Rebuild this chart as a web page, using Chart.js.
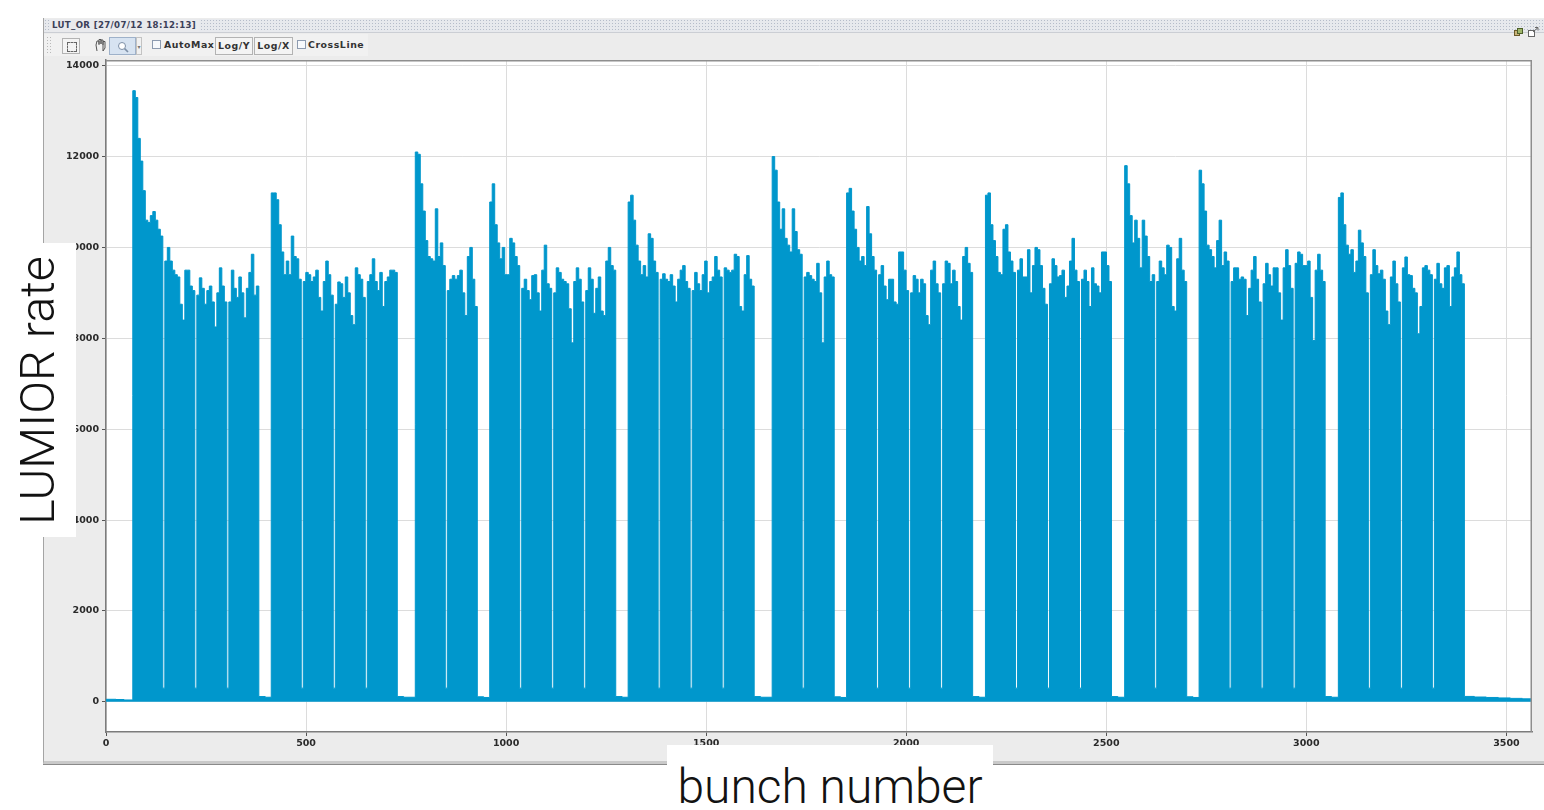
<!DOCTYPE html>
<html><head><meta charset="utf-8">
<script src="https://cdn.jsdelivr.net/npm/chart.js@4.4.1/dist/chart.umd.min.js"></script>
<style>
html,body{margin:0;padding:0;background:#fff;width:1544px;height:810px;overflow:hidden;position:relative;font-family:'DejaVu Sans',sans-serif;}
.abs{position:absolute;}
#panel{left:43px;top:18px;width:1501px;height:743px;background:#ececec;border-left:1px solid #a4a4a4;border-bottom:3px solid #c9c9c9;box-shadow:0 1px 0 #8a8a8a;}
#titlebar{left:44px;top:19px;width:1500px;height:13px;background-color:#e7e9ed;background-image:radial-gradient(circle,#b5bcc9 0.7px,transparent 0.95px);background-size:3px 3px;border-bottom:1px solid #cbced4;}
#title{left:50px;top:19px;height:13px;line-height:13px;padding:0 3px 0 2px;background:#e9eaed;font-weight:bold;font-size:8.6px;color:#3b4058;letter-spacing:0.35px;white-space:nowrap;}
#toolbar{left:44px;top:34px;width:324px;height:22px;background:#f1f1f1;}
#grip{left:46px;top:36px;width:6px;height:18px;background-image:radial-gradient(circle,#b9b9b9 0.7px,transparent 0.9px);background-size:3px 3px;}
.btn{border:1px solid #b3b3b3;background:#f4f4f4;box-sizing:border-box;font-weight:bold;font-size:9.4px;color:#333;text-align:center;line-height:15px;letter-spacing:0.5px;}
.chk{width:9px;height:9px;border:1px solid #8d9bb0;background:#f7f9fc;box-sizing:border-box;}
.tbtxt{font-weight:bold;font-size:9.4px;color:#333;letter-spacing:0.55px;line-height:12px;white-space:nowrap;}
#c{left:0;top:0;z-index:1;}
.lab{background:#fff;z-index:3;}
.big{font-family:Roboto,'Open Sans',sans-serif;font-weight:300;color:#121212;white-space:nowrap;text-align:center;}
</style></head>
<body>
<div id="panel" class="abs"></div>
<div id="titlebar" class="abs"></div>
<div id="title" class="abs">LUT_OR [27/07/12 18:12:13]</div>
<div id="toolbar" class="abs"></div>
<div id="grip" class="abs"></div>
<div class="abs btn" style="left:62px;top:38px;width:18px;height:16px;"><div style="position:absolute;left:4px;top:3px;width:8px;height:8px;border:1px dashed #666;"></div></div>
<svg class="abs" style="left:94px;top:38px" width="13" height="15"><path d="M3 13 L2 7 L3 3 L5 3 L5 7 M5 6 L5 1.5 L7 1.5 L7 6 M7 6 L7 2 L9 2 L9 7 M9 7 L9 3.5 L11 3.5 L11 10 L9 13 Z" fill="none" stroke="#555" stroke-width="1"/></svg>
<div class="abs btn" style="left:109px;top:37px;width:27px;height:18px;background:#d7e3f1;border-color:#9eb1c9;"><svg style="position:absolute;left:7px;top:3px" width="12" height="12"><circle cx="5" cy="5" r="3.5" fill="#fff" stroke="#7d8fa6" stroke-width="1"/><line x1="7.6" y1="7.6" x2="11" y2="11" stroke="#7d8fa6" stroke-width="1.6"/></svg></div>
<div class="abs" style="left:136px;top:37px;width:6px;height:18px;border:1px solid #c3c3c3;box-sizing:border-box;font-size:6px;color:#777;line-height:17px;text-align:center;">&#9662;</div>
<div class="abs chk" style="left:152px;top:40px;"></div>
<div class="abs tbtxt" style="left:164px;top:39px;">AutoMax</div>
<div class="abs btn" style="left:215px;top:37px;width:38px;height:18px;">Log/Y</div>
<div class="abs btn" style="left:254px;top:37px;width:39px;height:18px;">Log/X</div>
<div class="abs chk" style="left:297px;top:40px;"></div>
<div class="abs tbtxt" style="left:308px;top:39px;">CrossLine</div>
<div class="abs" style="left:1514px;top:22px;width:9px;height:9px;"><svg width="9" height="9"><rect x="0.5" y="2.5" width="5" height="5" fill="#c9b47a" stroke="#6b5a2a"/><rect x="3.5" y="0.5" width="5" height="5" fill="#9fb66b" stroke="#4d5e2a"/></svg></div>
<div class="abs" style="left:1528px;top:22px;width:11px;height:10px;"><svg width="11" height="10"><rect x="0.5" y="3.5" width="6" height="6" fill="#fff" stroke="#666"/><path d="M5 5 L10 0.5 M7 0.5 L10 0.5 L10 3.5" fill="none" stroke="#666"/></svg></div>

<canvas id="c" class="abs" width="1544" height="810"></canvas>

<div class="abs lab" style="left:0;top:243px;width:76px;height:294px;"></div>
<div class="abs big" style="left:-113.2px;top:361.5px;width:300px;height:57px;line-height:57px;font-size:48.5px;transform:rotate(-90deg);z-index:4;">LUMIOR rate</div>
<div class="abs lab" style="left:667px;top:745px;width:326px;height:65px;">
  <div class="big" style="position:absolute;left:0;top:13.5px;width:326px;height:56px;line-height:56px;font-size:48px;">bunch number</div>
</div>

<script>
// ---- data ----
const xTicks = [0, 500, 1000, 1500, 2000, 2500, 3000, 3500];
const yTicks = [0, 2000, 4000, 6000, 8000, 10000, 12000, 14000];

// first bunch slot of each train, and per-batch rate profiles (12 samples per batch)
const trainStarts = [67, 413, 773, 959, 1305, 1665, 1851, 2198, 2546, 2732, 3080];

const train01 = [
  [13450, 13300, 12400, 11900, 11250, 10600, 10550, 10700, 10790, 10600, 10400, 10250],
  [9700, 10000, 9700, 9500, 9400, 9350, 8750, 8400, 9500, 9500, 9150, 9050],
  [8950, 9330, 9100, 8750, 9050, 9150, 8800, 8250, 9000, 9550, 9150, 8800],
  [8800, 9500, 9100, 8900, 9350, 9000, 8450, 9100, 9450, 9850, 8950, 9150]];
const train02 = [
  [11200, 11200, 11050, 10500, 9900, 9400, 9700, 9400, 10250, 9800, 9750, 9300],
  [9250, 9450, 9400, 9250, 9350, 9500, 8900, 8600, 9250, 9700, 9400, 8950],
  [8750, 9240, 9200, 8900, 9350, 9000, 8500, 8300, 9550, 9400, 9300, 8900],
  [9250, 9400, 9750, 9250, 9050, 9450, 8700, 9250, 9350, 9500, 9500, 9450]];
const train03 = [
  [12100, 12050, 11400, 10800, 10150, 9800, 9750, 9700, 10850, 9800, 10100, 9600],
  [9050, 9300, 9380, 9300, 9380, 9500, 9000, 8500, 9800, 10000, 9300, 8700]];
const train04 = [
  [11000, 11400, 10500, 10100, 9750, 10000, 9400, 9400, 10200, 10100, 9800, 9600],
  [9100, 9300, 9050, 8850, 9380, 9400, 9000, 8600, 9500, 10050, 9200, 9100],
  [9000, 9550, 9450, 9300, 9250, 9200, 8650, 7900, 9250, 9550, 9300, 8800],
  [9050, 9550, 9300, 8550, 9100, 9350, 8600, 8500, 9700, 10000, 9600, 9500]];
const train05 = [
  [11000, 11150, 10600, 10050, 9700, 9400, 9600, 9350, 10300, 10200, 9700, 9450],
  [9300, 9420, 9300, 9250, 9400, 9150, 8800, 9300, 9500, 9600, 9250, 9100],
  [9050, 9450, 9200, 9050, 9400, 9700, 9000, 9250, 9350, 9800, 9500, 9350],
  [9550, 9500, 9450, 9500, 9850, 9800, 8700, 8600, 9400, 9820, 9300, 9150]];
const train06 = [
  [12000, 11700, 11000, 10400, 10850, 10200, 10050, 9900, 10850, 10350, 9950, 9850],
  [9350, 9450, 9380, 9300, 9250, 9650, 9000, 7900, 9350, 9700, 9400, 9350]];
const train07 = [
  [11200, 11300, 10800, 10400, 10000, 9700, 9800, 9600, 10900, 10300, 9800, 9500],
  [9400, 9600, 9150, 8850, 9300, 9300, 8800, 8750, 9900, 9900, 9500, 9050],
  [9000, 9380, 9300, 9000, 9300, 9200, 8500, 8300, 9500, 9700, 9200, 9000],
  [9200, 9700, 9650, 9200, 9500, 9250, 8700, 8400, 9800, 10000, 9650, 9450]];
const train08 = [
  [11150, 11200, 10500, 10150, 9800, 9450, 9400, 10400, 10500, 9900, 9700, 9450],
  [9500, 9750, 9350, 9350, 9950, 9000, 9600, 10000, 9950, 9600, 9100, 8750],
  [9200, 9750, 9600, 9350, 9380, 9500, 8900, 9150, 9700, 10200, 9500, 9250],
  [9300, 9500, 9250, 8700, 9550, 9200, 9150, 9000, 9900, 9900, 9600, 9250]];
const train09 = [
  [11800, 11400, 10700, 10100, 10600, 10200, 9550, 10600, 10250, 9800, 9250, 9400],
  [9250, 9700, 9550, 9400, 10050, 10000, 8700, 8600, 9750, 10200, 9500, 9250]];
const train10 = [
  [11700, 11400, 10800, 10050, 9950, 9800, 9550, 10150, 10600, 9600, 9900, 9700],
  [9250, 9550, 9550, 9300, 9350, 9300, 8500, 9100, 9500, 9800, 9300, 8800],
  [9200, 9650, 9400, 9150, 9550, 9550, 9000, 8400, 9550, 9950, 9600, 9100],
  [9650, 9900, 9850, 9600, 9600, 9700, 8900, 7950, 9500, 9850, 9500, 9250]];
const train11 = [
  [11100, 11200, 10500, 10050, 9850, 9950, 9450, 9700, 10380, 10100, 9800, 9000],
  [9400, 9950, 9600, 9420, 9500, 9300, 8600, 8300, 9350, 9700, 9200, 8800],
  [9550, 9790, 9400, 9380, 9100, 9000, 8100, 8700, 9550, 9600, 9500, 9400],
  [9300, 9650, 9200, 9100, 9550, 9600, 8700, 9350, 9550, 9900, 9400, 9200]];

// low levels: before first train, between batches, after-glow between trains, tail
const leadX = [0, 25, 45];
const leadY = [55, 50, 40];
const interBatchLevel = 300;
const trainEndLevel = [115, 115, 110, 115, 115, 110, 115, 115, 110, 115, 118];
const preTrainLevel = [100, 100, 95, 100, 100, 95, 100, 100, 95, 100];
const tailX = [3420, 3450, 3480, 3510, 3540, 3564];
const tailY = [105, 95, 85, 75, 65, 60];

// ---- build the series ----
const trains = [train01, train02, train03, train04, train05, train06, train07, train08, train09, train10, train11];
const sampleSlots = 6.25, batchPeriod = 80, glowSpan = 16;
const pts = [];
leadX.forEach((x, i) => pts.push({x, y: leadY[i]}));
trains.forEach((batches, t) => {
  const start = trainStarts[t];
  batches.forEach((vals, b) => {
    const bs = start + b * batchPeriod;
    vals.forEach((v, s) => pts.push({x: bs + s * sampleSlots, y: v}));
    const be = bs + vals.length * sampleSlots;
    if (b < batches.length - 1) {
      pts.push({x: be, y: interBatchLevel});
    } else {
      pts.push({x: be, y: trainEndLevel[t]});
      if (t < trains.length - 1) pts.push({x: be + glowSpan, y: preTrainLevel[t]});
    }
  });
});
tailX.forEach((x, i) => pts.push({x, y: tailY[i]}));

const tickFont = {family: "'DejaVu Sans', sans-serif", size: 9.5, weight: 'bold'};
const blue = '#0097cc';

const plotFrame = {
  id: 'plotFrame',
  beforeDraw(chart) {
    const {ctx, chartArea: a} = chart;
    ctx.save();
    ctx.fillStyle = '#ffffff';
    ctx.fillRect(a.left, a.top, a.right - a.left, a.bottom - a.top);
    ctx.restore();
  },
  afterDraw(chart) {
    const {ctx, chartArea: a} = chart;
    ctx.save();
    ctx.strokeStyle = '#8e8e8e';
    ctx.lineWidth = 1.5;
    ctx.beginPath();
    ctx.moveTo(a.left, a.top + 0.75); ctx.lineTo(a.right, a.top + 0.75);
    ctx.moveTo(a.right - 0.75, a.top); ctx.lineTo(a.right - 0.75, a.bottom);
    ctx.stroke();
    ctx.restore();
  }
};

new Chart(document.getElementById('c'), {
  type: 'line',
  data: {datasets: [{
    data: pts,
    stepped: true,
    fill: 'origin',
    backgroundColor: blue,
    borderColor: blue,
    borderWidth: 1,
    pointRadius: 0,
    tension: 0
  }]},
  options: {
    responsive: false,
    animation: false,
    devicePixelRatio: 1,
    layout: {padding: {left: 46, top: 60, right: 12, bottom: 48}},
    plugins: {legend: {display: false}, tooltip: {enabled: false}},
    scales: {
      x: {
        type: 'linear', min: 0, max: 3564,
        afterFit: s => { s.height = 30; },
        afterBuildTicks: s => { s.ticks = xTicks.map(v => ({value: v})); },
        ticks: {font: tickFont, color: '#2a2a2a', padding: 2, maxRotation: 0, callback: v => String(v)},
        grid: {color: '#dcdcdc', lineWidth: 1, tickLength: 4, tickColor: '#555'},
        border: {display: true, color: '#7c7c7c', width: 1.5}
      },
      y: {
        type: 'linear', min: -665, max: 14125,
        afterFit: s => { s.width = 60; },
        afterBuildTicks: s => { s.ticks = yTicks.map(v => ({value: v})); },
        ticks: {font: tickFont, color: '#2a2a2a', padding: 3, callback: v => String(v)},
        grid: {color: '#dcdcdc', lineWidth: 1, tickLength: 4, tickColor: '#555'},
        border: {display: true, color: '#7c7c7c', width: 1.5}
      }
    }
  },
  plugins: [plotFrame]
});
</script>
</body></html>
